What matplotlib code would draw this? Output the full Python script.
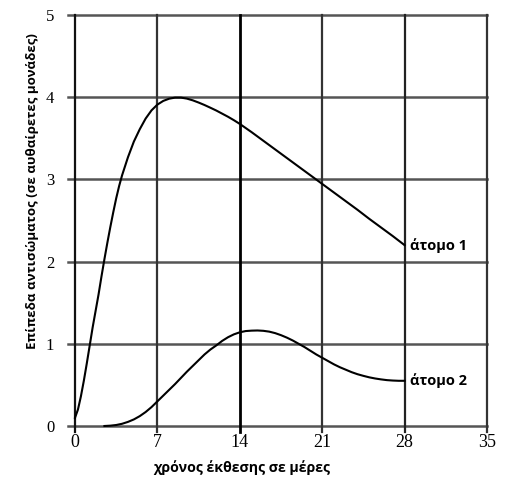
import matplotlib
matplotlib.use("Agg")
import matplotlib.pyplot as plt

x1 = [0, 0.25, 0.5, 0.75, 1, 1.25, 1.5, 1.75, 2, 2.25, 2.5, 2.75, 3, 3.25, 3.5, 3.75, 4, 4.5, 5, 5.5, 6, 6.5, 7, 7.5, 8, 8.5, 9, 9.5, 10, 10.5, 11, 11.5, 12, 12.5, 13, 13.5, 14, 15, 16, 17, 18, 19, 20, 21, 22, 23, 24, 25, 26, 27, 28]
y1 = [0.10, 0.20, 0.36, 0.55, 0.76, 0.98, 1.20, 1.40, 1.60, 1.82, 2.03, 2.23, 2.42, 2.60, 2.77, 2.92, 3.05, 3.27, 3.46, 3.61, 3.74, 3.84, 3.91, 3.955, 3.982, 3.995, 3.995, 3.983, 3.962, 3.935, 3.905, 3.872, 3.838, 3.80, 3.762, 3.72, 3.675, 3.575, 3.47, 3.365, 3.26, 3.155, 3.05, 2.945, 2.84, 2.735, 2.63, 2.52, 2.415, 2.31, 2.2]

x2 = [2.5, 3, 3.5, 4, 4.5, 5, 5.5, 6, 6.5, 7, 7.5, 8, 8.5, 9, 9.5, 10, 10.5, 11, 11.5, 12, 12.5, 13, 13.5, 14, 14.5, 15, 15.5, 16, 16.5, 17, 17.5, 18, 18.5, 19, 19.5, 20, 20.5, 21, 21.5, 22, 22.5, 23, 23.5, 24, 24.5, 25, 25.5, 26, 26.5, 27, 27.5, 28]
y2 = [0.0, 0.004, 0.012, 0.027, 0.05, 0.08, 0.12, 0.17, 0.23, 0.30, 0.37, 0.44, 0.51, 0.585, 0.66, 0.73, 0.80, 0.87, 0.93, 0.98, 1.035, 1.08, 1.115, 1.14, 1.155, 1.16, 1.162, 1.158, 1.148, 1.13, 1.105, 1.075, 1.04, 1.0, 0.96, 0.915, 0.87, 0.83, 0.79, 0.75, 0.715, 0.685, 0.655, 0.63, 0.61, 0.592, 0.578, 0.567, 0.558, 0.553, 0.55, 0.55]

xticks = [0, 7, 14, 21, 28, 35]
yticks = [0, 1, 2, 3, 4, 5]
label1 = "άτομο 1"
label2 = "άτομο 2"
xlabel = "χρόνος έκθεσης σε μέρες"
ylabel = "Επίπεδα αντισώματος (σε αυθαίρετες μονάδες)"

fig = plt.figure(figsize=(5.07, 4.79), dpi=100)
ax = fig.add_axes([75/507, 1 - 426/479, (487-75)/507, (426-15)/479])
ax.set_xlim(0, 35)
ax.set_ylim(0, 5)

for s in ax.spines.values():
    s.set_visible(False)

for yt in yticks:
    ax.plot([-0.6, 35], [yt, yt], color="#555555", lw=1.8, clip_on=False, zorder=1)
vcolors = {0: "#111111", 7: "#333333", 14: "#000000", 21: "#333333", 28: "#222222", 35: "#333333"}
for xt in xticks:
    ax.plot([xt, xt], [-0.07, 5], color=vcolors[xt], lw=1.6 if xt != 14 else 2.0, clip_on=False, zorder=1)

ax.plot(x1, y1, color="black", lw=1.5, zorder=3, clip_on=False)
ax.plot(x2, y2, color="black", lw=1.5, zorder=3, clip_on=False)

ax.set_xticks(xticks)
ax.set_yticks(yticks)
ax.tick_params(length=0)
ax.tick_params(axis="x", pad=6)
ax.tick_params(axis="y", pad=15)
for lab in ax.get_xticklabels():
    lab.set_family("Liberation Serif")
    lab.set_fontsize(13)
for lab in ax.get_yticklabels():
    lab.set_family("Liberation Serif")
    lab.set_fontsize(12)

ax.text(28.5, 2.2, label1, fontsize=10.5, fontweight="bold", family="Open Sans", va="center", ha="left")
ax.text(28.5, 0.55, label2, fontsize=10.5, fontweight="bold", family="Open Sans", va="center", ha="left")

ax.set_xlabel(xlabel, fontsize=10.2, fontweight="bold", family="Open Sans", va="center")
ax.xaxis.set_label_coords(0.405, -0.102)
ax.set_ylabel(ylabel, fontsize=9.5, fontweight="bold", family="Open Sans", va="center")
ax.yaxis.set_label_coords(-0.104, 0.572)

fig.savefig("out.png", dpi=100)
